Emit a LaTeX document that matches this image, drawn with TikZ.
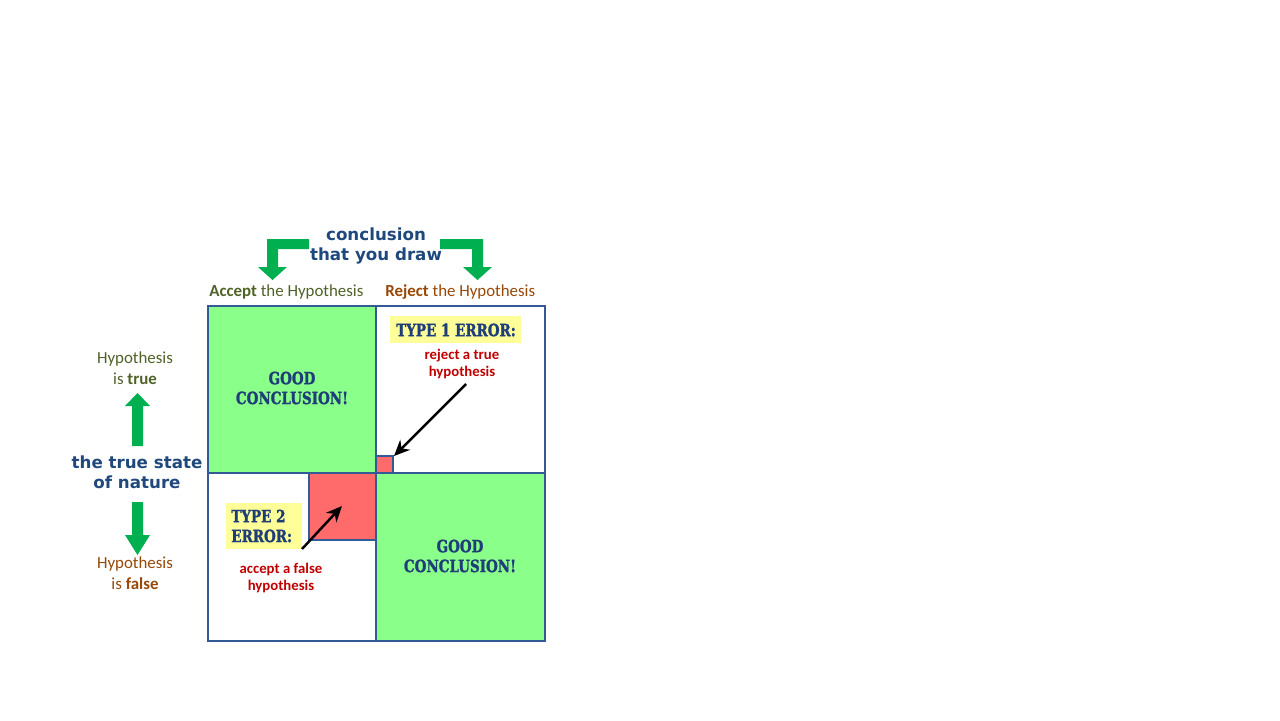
\documentclass[tikz,border=0pt]{standalone}
\usepackage{fontspec}
\setmainfont{Carlito}
\newfontfamily\vfont{DejaVu Sans}
\newfontfamily\stfont[BoldFont={DejaVu Serif Bold}, BoldFeatures={FakeBold=1.6}]{DejaVu Serif}
\usetikzlibrary{arrows.meta}
\definecolor{cellgreen}{RGB}{138,255,138}
\definecolor{errred}{RGB}{255,107,107}
\definecolor{gridblue}{RGB}{52,90,150}
\definecolor{arrgreen}{RGB}{0,176,80}
\definecolor{hiyellow}{RGB}{255,255,153}
\definecolor{navy}{RGB}{31,73,125}
\definecolor{stblue}{RGB}{31,62,120}
\definecolor{txred}{RGB}{192,0,0}
\definecolor{olive}{RGB}{79,98,40}
\definecolor{brownish}{RGB}{152,72,7}
\newcommand{\stenciltext}[1]{\scalebox{0.8}[1]{\stfont\bfseries #1}}
\tikzset{
  cell/.style={draw=gridblue, line width=1.2pt},
  bluetext/.style={text=navy, font=\vfont\bfseries\fontsize{9.5}{11.4}\selectfont, align=center, inner sep=0pt},
  sttext/.style={text=stblue, font=\fontsize{9.6}{11.3}\selectfont, align=center, inner sep=0pt},
  redtext/.style={text=txred, font=\bfseries\fontsize{8.4}{10.2}\selectfont, align=center, inner sep=0pt},
  hyptext/.style={font=\fontsize{9.6}{11.9}\selectfont, align=center, inner sep=0pt},
  bigarrow/.style={fill=arrgreen, draw=none},
  pointer/.style={draw=black, line width=1.4pt, -{Stealth[length=9pt,width=8pt]}},
  ybox/.style={fill=hiyellow, draw=none}
}
\begin{document}
\begin{tikzpicture}[x=0.02cm, y=-0.02cm]
\useasboundingbox (0,0) rectangle (1280,720);
% cells
\path[fill=cellgreen] (208,306) rectangle (376,473);
\path[fill=cellgreen] (376,473) rectangle (545,641);
\path[fill=errred] (309,473) rectangle (376,540);
\path[fill=errred] (376,456) rectangle (393,473);
\draw[cell] (208,306) rectangle (545,641);
\draw[cell] (376,306) -- (376,641);
\draw[cell] (208,473) -- (545,473);
\draw[cell] (309,473) rectangle (376,540);
\draw[cell] (376,456) rectangle (393,473);
% good conclusion
\node[sttext] (good1) at (292,388) {\stenciltext{GOOD}\\\stenciltext{CONCLUSION!}};
\node[sttext] (good2) at (460,556) {\stenciltext{GOOD}\\\stenciltext{CONCLUSION!}};
% type 1
\path[ybox] (390,316) rectangle (521,343);
\node[sttext] (t1) at (456,330) {\stenciltext{TYPE 1 ERROR:}};
\node[redtext] (r1) at (462,364) {reject a true\\hypothesis};
% type 2
\path[ybox] (226,503) rectangle (302,549);
\node[sttext, align=left, anchor=west] (t2) at (231,526) {\stenciltext{TYPE 2}\\\stenciltext{ERROR:}};
\node[redtext] (r2) at (281,578) {accept a false\\hypothesis};
% pointers
\coordinate (p1s) at (466,384);
\coordinate (p1e) at (394,456);
\coordinate (p2s) at (302,549);
\coordinate (p2e) at (342,506);
\draw[pointer] (p1s) -- (p1e);
\draw[pointer] (p2s) -- (p2e);
% top labels
\node[bluetext] (concl) at (376,246) {conclusion\\that you draw};
\node[hyptext, anchor=west, text=olive] (acc) at (209,292) {\textbf{Accept} the Hypothesis};
\node[hyptext, anchor=west, text=brownish] (rej) at (385,292) {\textbf{Reject} the Hypothesis};
% bent arrows
\path[bigarrow] (309,239) -- (267,239) -- (267,267) -- (258,267) -- (272.5,280) -- (287,267) -- (278,267) -- (278,249) -- (309,249) -- cycle;
\path[bigarrow] (440,239) -- (483,239) -- (483,267) -- (492,267) -- (477.5,280) -- (463,267) -- (472,267) -- (472,249) -- (440,249) -- cycle;
% left side
\node[hyptext, text=olive] (htrue) at (135,368) {Hypothesis\\is \textbf{true}};
\node[bluetext] (nature) at (137,472) {the true state\\of nature};
\node[hyptext, text=brownish] (hfalse) at (135,573) {Hypothesis\\is \textbf{false}};
\path[bigarrow] (132,446) -- (132,406) -- (125,406) -- (137.5,393) -- (150,406) -- (143,406) -- (143,446) -- cycle;
\path[bigarrow] (132,502) -- (132,535) -- (125,535) -- (137.5,555) -- (150,535) -- (143,535) -- (143,502) -- cycle;
\end{tikzpicture}
\end{document}
